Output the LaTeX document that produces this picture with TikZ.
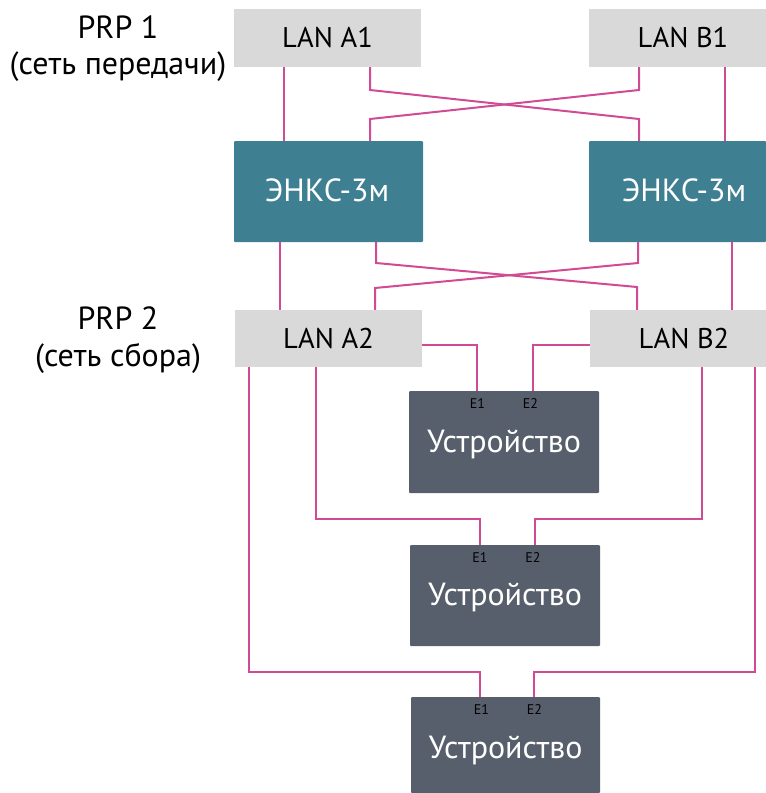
\documentclass[tikz,border=0pt]{standalone}
\usepackage{fontspec}
\setmainfont{PT Sans}
\newcommand{\shifttext}[2]{\raisebox{#1}[\height][\depth]{#2}}
\tikzset{
  lanbox/.style={fill=lanfill,text=black,inner sep=0pt,font=\fontsize{28.5}{32}\selectfont},
  enksbox/.style={fill=enksfill,text=white,inner sep=0pt,rounded corners=1pt,font=\fontsize{32}{36}\selectfont},
  devbox/.style={fill=devfill,text=white,inner sep=0pt,rounded corners=1pt,font=\fontsize{32}{36}\selectfont},
  caption/.style={inner sep=0pt,align=center,text=black,font=\fontsize{32}{36}\selectfont},
  port/.style={inner sep=0pt,text=black,font=\fontsize{14}{16}\selectfont},
  link/.style={draw=linkpink,line width=2pt,line join=miter}
}
\definecolor{lanfill}{HTML}{D9D9D9}
\definecolor{enksfill}{HTML}{3E8092}
\definecolor{devfill}{HTML}{585F6C}
\definecolor{linkpink}{HTML}{D14A94}
\begin{document}
\begin{tikzpicture}[x=1pt,y=-1pt]
\useasboundingbox (0,0) rectangle (766,793);
% boxes
\node[lanbox,minimum width=187pt,minimum height=58pt] (a1) at (327.5,38) {LAN A1};
\node[lanbox,minimum width=177pt,minimum height=58pt] (b1) at (677.5,38) {\hspace*{11pt}LAN B1};
\node[enksbox,minimum width=189pt,minimum height=101pt] (e1) at (328.5,191.5) {\shifttext{1.5pt}{ЭНКС-3м}\hspace*{3pt}};
\node[enksbox,minimum width=177pt,minimum height=101pt] (e2) at (677.5,191.5) {\hspace*{13pt}\shifttext{1.5pt}{ЭНКС-3м}};
\node[lanbox,minimum width=187pt,minimum height=57pt] (a2) at (328.5,338.5) {LAN A2};
\node[lanbox,minimum width=176pt,minimum height=57pt] (b2) at (678,338.5) {\hspace*{12pt}LAN B2};
\node[devbox,minimum width=190pt,minimum height=102pt] (d1) at (504,442) {\shifttext{-2pt}{Устройство}};
\node[devbox,minimum width=190pt,minimum height=101pt] (d2) at (505,595.5) {\shifttext{-2pt}{Устройство}};
\node[devbox,minimum width=189pt,minimum height=96pt] (d3) at (505.5,745) {\shifttext{-5pt}{Устройство}};
% links top
\draw[link] (284,0 |- a1.south) -- (284,0 |- e1.north);
\draw[link] (370,0 |- a1.south) -- (370,90) -- (639,119) -- (639,0 |- e2.north);
\draw[link] (639,0 |- b1.south) -- (639,90) -- (370,119) -- (370,0 |- e1.north);
\draw[link] (725,0 |- b1.south) -- (725,0 |- e2.north);
% links middle
\draw[link] (280,0 |- e1.south) -- (280,0 |- a2.north);
\draw[link] (376,0 |- e1.south) -- (376,263) -- (637,287) -- (637,0 |- b2.north);
\draw[link] (638,0 |- e2.south) -- (638,263) -- (375,288) -- (375,0 |- a2.north);
\draw[link] (732,0 |- e2.south) -- (732,0 |- b2.north);
% links to devices
\draw[link] (a2.east |- 0,345) -- (477,345) -- (477,0 |- d1.north);
\draw[link] (b2.west |- 0,345) -- (533,345) -- (533,0 |- d1.north);
\draw[link] (316,0 |- a2.south) -- (316,519) -- (480,519) -- (480,0 |- d2.north);
\draw[link] (702,0 |- b2.south) -- (702,519) -- (535,519) -- (535,0 |- d2.north);
\draw[link] (249,0 |- a2.south) -- (249,672) -- (480,672) -- (480,0 |- d3.north);
\draw[link] (755,0 |- b2.south) -- (755,672) -- (534,672) -- (534,0 |- d3.north);
% captions
\node[caption] (c1) at (118,27) {PRP 1};
\node[caption] (c2) at (118,67) {(сеть передачи)};
\node[caption] (c3) at (118,318) {PRP 2};
\node[caption] (c4) at (118,358) {(сеть сбора)};
% ports
\node[port] (p1) at (477.5,404) {E1};
\node[port] (p2) at (530.5,404) {E2};
\node[port] (p3) at (480,557.5) {E1};
\node[port] (p4) at (533,557.5) {E2};
\node[port] (p5) at (481.5,709.5) {E1};
\node[port] (p6) at (534.5,709.5) {E2};
\end{tikzpicture}
\end{document}
